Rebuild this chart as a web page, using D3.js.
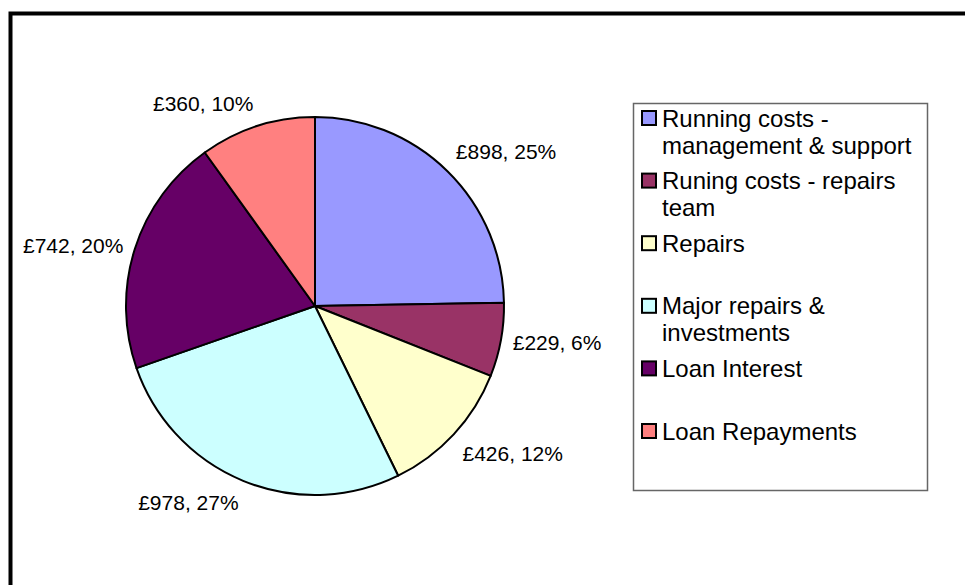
<!DOCTYPE html>
<html>
<head>
<meta charset="utf-8">
<script src="https://cdn.jsdelivr.net/npm/d3@7"></script>
<style>
  html, body { margin: 0; padding: 0; background: #fff; }
  svg { display: block; font-family: Arial, "Liberation Sans", sans-serif; }
</style>
</head>
<body>
<svg id="chart" width="965" height="585"></svg>
<script>
'use strict';

// chart data
var categories = [
  "Running costs - management & support",
  "Runing costs - repairs team",
  "Repairs",
  "Major repairs & investments",
  "Loan Interest",
  "Loan Repayments"
];
var values = [898, 229, 426, 978, 742, 360];
var colors = ["#9999FF", "#993366", "#FFFFCC", "#CCFFFF", "#660066", "#FF8080"];
// legend text as it wraps in the original
var legendLines = [
  ["Running costs -", "management & support"],
  ["Runing costs - repairs", "team"],
  ["Repairs"],
  ["Major repairs &", "investments"],
  ["Loan Interest"],
  ["Loan Repayments"]
];

var svg = d3.select('#chart');
var cx = 315, cy = 306, r = 189;
var total = d3.sum(values);
var pct = d3.format(".0%");
var fmt = function (v) { return "£" + v + ", " + pct(v / total); };

// outer chart frame (runs off the right / bottom edge)
svg.append('rect')
  .attr('x', 10.5).attr('y', 13.5)
  .attr('width', 1000).attr('height', 1000)
  .attr('fill', 'none').attr('stroke', '#000').attr('stroke-width', 4);

var pie = d3.pie().sort(null).value(function (d) { return d; });
var arcs = pie(values);
var arc = d3.arc().innerRadius(0).outerRadius(r);
var labelArc = d3.arc().innerRadius(r + 12).outerRadius(r + 12);

var g = svg.append('g').attr('transform', 'translate(' + cx + ',' + cy + ')');

g.selectAll('path.slice')
  .data(arcs)
  .join('path')
  .attr('class', 'slice')
  .attr('d', arc)
  .attr('fill', function (d, i) { return colors[i]; })
  .attr('stroke', '#000')
  .attr('stroke-width', 2)
  .attr('stroke-linejoin', 'round');

// data labels: box sits outside the anchor point, corner-wise like Excel
var labels = g.selectAll('text.lbl')
  .data(arcs)
  .join('text')
  .attr('class', 'lbl')
  .attr('font-size', 21)
  .attr('fill', '#000')
  .attr('text-anchor', 'middle')
  .text(function (d) { return fmt(d.value); });

labels.each(function (d) {
  var w = this.getComputedTextLength();
  var h = 22;
  var p = labelArc.centroid(d);
  var a = (d.startAngle + d.endAngle) / 2;
  var s = Math.sin(a), c = Math.cos(a);
  var dx = (s >= 0 ? 1 : -1) * w / 2;
  var dy = Math.abs(c) > 0.35 ? -(c >= 0 ? 1 : -1) * h / 2 : 0;
  d3.select(this)
    .attr('x', p[0] + dx)
    .attr('y', p[1] + dy + 7.5);
});

// legend
var lx = 633, ly = 103, lw = 294, lh = 387;
var legend = svg.append('g');
legend.append('rect')
  .attr('x', lx + 0.5).attr('y', ly + 0.5)
  .attr('width', lw).attr('height', lh)
  .attr('fill', '#fff').attr('stroke', '#666').attr('stroke-width', 1.5);

var itemY = d3.scaleLinear().domain([0, 1]).range([118, 180.6]);
var items = legend.selectAll('g.item')
  .data(categories)
  .join('g')
  .attr('class', 'item')
  .attr('transform', function (d, i) { return 'translate(0,' + itemY(i) + ')'; });

items.append('rect')
  .attr('x', 642).attr('y', -7)
  .attr('width', 14).attr('height', 14)
  .attr('fill', function (d, i) { return colors[i]; })
  .attr('stroke', '#000').attr('stroke-width', 2);

items.append('text')
  .attr('font-size', 24)
  .attr('fill', '#000')
  .selectAll('tspan')
  .data(function (d, i) { return legendLines[i]; })
  .join('tspan')
  .attr('x', 662)
  .attr('y', function (d, j) { return 8.5 + j * 27; })
  .text(function (d) { return d; });
</script>
</body>
</html>
